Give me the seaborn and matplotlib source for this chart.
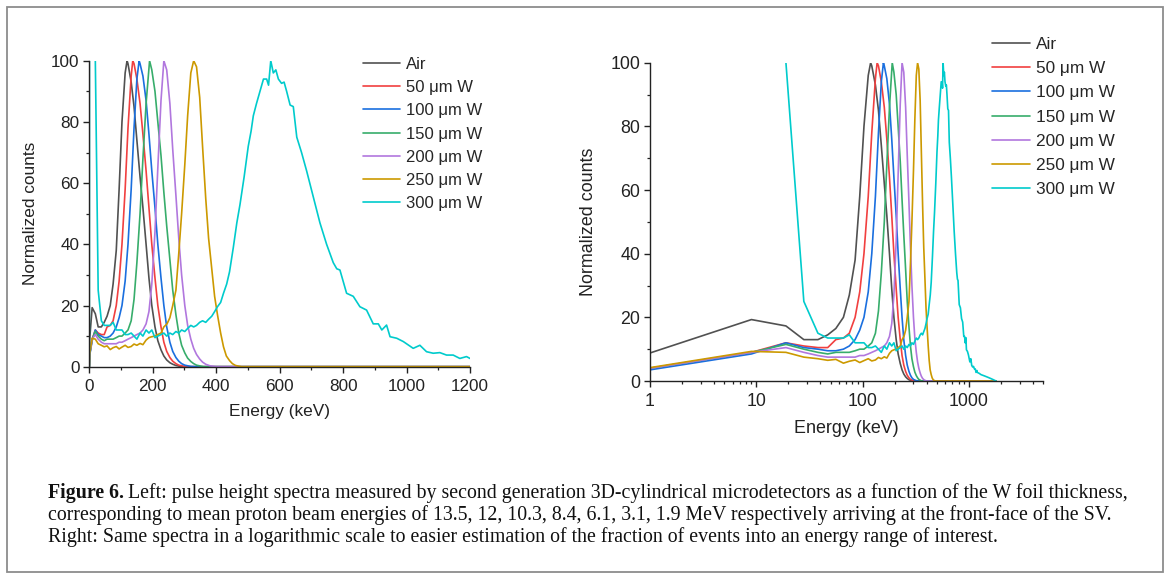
import numpy as np
import pandas as pd
import matplotlib
matplotlib.use("Agg")
import matplotlib.pyplot as plt
import seaborn as sns
from matplotlib.ticker import MultipleLocator, FixedLocator, LogLocator, NullFormatter
from matplotlib.patches import Rectangle

# ---------------- data ----------------
series_labels = ["Air", "50 \u03bcm W", "100 \u03bcm W", "150 \u03bcm W",
                 "200 \u03bcm W", "250 \u03bcm W", "300 \u03bcm W"]
series_colors = ["#515151", "#F14040", "#1A6FDF", "#37AD6B",
                 "#B177DE", "#CC9900", "#00CBCC"]

air_E = [0, 1, 9, 19, 28, 38, 47, 56, 66, 75, 85, 94, 103, 113, 119, 122, 132, 141,
         150, 160, 169, 179, 188, 197, 207, 216, 226, 235, 244, 254, 263, 273, 282,
         300, 600, 1800]
air_N = [0, 8.8, 19.3, 17.3, 13, 13, 14.5, 16.5, 20, 27, 38, 58, 80, 96, 100, 99, 93, 85,
         74, 62, 52, 40, 29, 20, 13, 8.5, 5.5, 3.5, 2.2, 1.3, 0.8, 0.4, 0.2,
         0, 0, 0]

w50_E = [0, 1, 9, 19, 28, 38, 47, 56, 66, 75, 85, 94, 103, 113, 122, 132, 137, 141,
         150, 160, 169, 179, 188, 197, 207, 216, 226, 235, 244, 254, 263, 273, 282,
         291, 301, 320, 600, 1800]
w50_N = [0, 4, 9, 12, 11, 10.5, 10.5, 13, 13.5, 15, 20, 28, 40, 58, 78, 95, 100, 99,
         94, 86, 76, 64, 52, 40, 29, 20, 13, 8, 5, 3, 1.8, 1, 0.5,
         0.3, 0.1, 0, 0, 0]

w100_E = [0, 1, 9, 19, 28, 38, 47, 56, 66, 75, 85, 94, 103, 113, 122, 132, 141, 150,
          157, 160, 169, 179, 188, 197, 207, 216, 226, 235, 244, 254, 263, 273, 282,
          291, 301, 310, 320, 340, 600, 1800]
w100_N = [0, 3.5, 8.5, 12, 10.5, 10, 9.5, 9.5, 10, 11, 13, 16, 20, 28, 40, 58, 78, 94,
          100, 99, 95, 87, 76, 64, 52, 40, 29, 20, 13, 8, 5, 3, 1.8,
          1, 0.5, 0.3, 0.1, 0, 0, 0]

w150_E = [0, 1, 9, 19, 28, 38, 47, 56, 66, 75, 85, 94, 103, 113, 122, 132, 141, 150,
          160, 169, 179, 190, 197, 207, 216, 226, 235, 244, 254, 263, 273, 282, 291,
          301, 310, 320, 329, 338, 360, 600, 1800]
w150_N = [0, 4, 9, 11.5, 10, 9, 8.5, 9, 9, 9, 9.5, 10, 10, 11, 12, 15, 22, 34,
          50, 68, 86, 100, 97, 90, 80, 69, 57, 46, 35, 25, 17, 11, 7,
          4.5, 2.8, 1.7, 1, 0.5, 0, 0, 0]

w200_E = [0, 1, 9, 19, 28, 38, 47, 56, 66, 75, 85, 94, 103, 113, 122, 132, 141, 150,
          160, 169, 179, 188, 197, 207, 216, 226, 235, 244, 254, 263, 273, 282, 291,
          301, 310, 320, 329, 338, 348, 357, 367, 380, 400, 600, 1800]
w200_N = [0, 4, 9, 10.5, 9, 8, 7.5, 7.5, 7.5, 7.5, 7.5, 8, 8, 8.5, 9, 9.5, 10, 10.5,
          11, 12, 14, 18, 27, 44, 65, 87, 100, 97, 86, 71, 56, 42, 30,
          20, 13.5, 9, 6, 4, 2.5, 1.5, 0.8, 0.3, 0, 0, 0]

w250_E = [0, 1, 9, 19, 28, 38, 47, 56, 66, 75, 85, 94, 103, 113, 122, 132, 141, 150,
          160, 169, 179, 188, 197, 207, 216, 226, 235, 245, 254, 263, 273, 282, 291,
          301, 310, 320, 329, 338, 348, 357, 367, 376, 386, 395, 404, 414, 423, 432,
          442, 451, 461, 480, 600, 1800]
w250_N = [0, 4.2, 9.3, 9, 7.5, 7, 6.5, 6.8, 5.6, 6.2, 6.6, 5.8, 6.4, 7, 6.3, 6.6, 7.4, 7,
          7.6, 7.2, 8.7, 9.5, 9.8, 10, 10.5, 11, 13, 14, 16, 20, 25, 37, 50,
          66, 82, 96, 100, 98, 88, 72, 55, 42, 32, 23, 17, 11, 6.5, 3.5,
          2, 1, 0.4, 0, 0, 0]

w300_E = [0, 1, 9, 19, 28, 38, 47, 56, 66, 75,
          85, 94, 103, 113, 122, 132, 141, 150, 160, 169,
          179, 188, 197, 207, 216, 226, 235, 244, 254, 263,
          273, 282, 291, 301, 310, 320, 329, 338, 348, 357,
          367, 376, 386, 395, 404, 414, 423, 433, 442, 454,
          465, 475, 488, 501, 510, 517, 527, 538, 549, 559,
          565, 572, 580, 588, 596, 606, 614, 622, 633, 643,
          654, 669, 685, 706, 727, 748, 769, 780, 790, 811,
          832, 853, 874, 895, 911, 922, 937, 948, 969, 990,
          1021, 1042, 1063, 1084, 1105, 1126, 1147, 1168, 1189, 1200,
          1250, 1300, 1400, 1500, 1600, 1700, 1800]
w300_N = [0, 250, 180, 100, 25, 15, 13.5, 13.5, 13.5, 14.5,
          12, 12, 12, 10.5, 10.5, 11, 10, 9, 11, 10,
          12, 11, 12, 9.5, 10, 10.5, 11, 10, 11, 10.5,
          11.5, 11, 12, 11.5, 12.5, 13.5, 13, 13.5, 14.5, 15,
          14.5, 15.5, 16.5, 18, 19.6, 21, 24, 27, 31, 39,
          47, 53, 62, 72, 77, 82, 86, 90, 94, 94,
          92, 100, 96, 97, 94, 92.6, 93, 90, 85.5, 85,
          75, 70, 64, 55.5, 47, 40, 34, 32, 31.6, 24,
          23, 19.6, 18.5, 14, 14, 12, 13.6, 9.8, 9.3, 8.2,
          6, 7, 4.9, 4.4, 4.6, 3.8, 3.8, 2.7, 3.3, 2.7,
          2.4, 2, 1.6, 1.2, 0.8, 0.4, 0]

x_ticks_lin = [0, 200, 400, 600, 800, 1000, 1200]
x_ticks_log = [1, 10, 100, 1000]
y_ticks = [0, 20, 40, 60, 80, 100]

caption_bold = "Figure 6."
caption_line1 = ("Left: pulse height spectra measured by second generation 3D-cylindrical "
                 "microdetectors as a function of the W foil thickness,")
caption_line2 = ("corresponding to mean proton beam energies of 13.5, 12, 10.3, 8.4, 6.1, 3.1, "
                 "1.9 MeV respectively arriving at the front-face of the SV.")
caption_line3 = ("Right: Same spectra in a logarithmic scale to easier estimation of the "
                 "fraction of events into an energy range of interest.")

# ---------------- build long-form table ----------------
all_E = [air_E, w50_E, w100_E, w150_E, w200_E, w250_E, w300_E]
all_N = [air_N, w50_N, w100_N, w150_N, w200_N, w250_N, w300_N]
frames = []
for lab, e, n in zip(series_labels, all_E, all_N):
    assert len(e) == len(n), (lab, len(e), len(n))
    frames.append(pd.DataFrame({"E": e, "N": n, "series": lab}))
df = pd.concat(frames, ignore_index=True)

# ---------------- style ----------------
sns.set_style("ticks")
plt.rcParams["font.family"] = ["Liberation Sans", "DejaVu Sans"]
plt.rcParams["axes.linewidth"] = 1.0
plt.rcParams["axes.edgecolor"] = "#222222"
plt.rcParams["xtick.color"] = "#222222"
plt.rcParams["ytick.color"] = "#222222"

W, H = 1170, 577
fig = plt.figure(figsize=(W / 100, H / 100), dpi=100)
fig.patch.set_facecolor("white")


def px_axes(x0, y0, x1, y1):
    return fig.add_axes([x0 / W, 1 - y1 / H, (x1 - x0) / W, (y1 - y0) / H])


axL = px_axes(89.3, 60.7, 470.0, 366.7)
axR = px_axes(650.0, 62.7, 1043.2, 381.0)

for ax, data, fs in [(axL, df, 1.0), (axR, df[df["E"] > 0], 1.04)]:
    sns.lineplot(data=data, x="E", y="N", hue="series", hue_order=series_labels,
                 palette=series_colors, estimator=None, sort=False, linewidth=1.2, ax=ax)
    ax.set_ylim(0, 100)
    ax.yaxis.set_major_locator(FixedLocator(y_ticks))
    ax.yaxis.set_minor_locator(MultipleLocator(10))
    ax.tick_params(which="major", direction="out", length=4, width=1.0,
                   labelsize=12.3 * fs, pad=3, colors="#222222")
    ax.tick_params(which="minor", direction="out", length=2.2, width=0.9)
    ax.tick_params(axis="x", which="major", pad=5)
    sns.despine(ax=ax)
    ax.set_xlabel("Energy (keV)", fontsize=12.4 * fs, color="#222222")
    ax.set_ylabel("Normalized counts", fontsize=12.4 * fs, color="#222222")

# left axis: linear
axL.set_xlim(0, 1200)
axL.xaxis.set_major_locator(FixedLocator(x_ticks_lin))
axL.xaxis.set_minor_locator(MultipleLocator(100))
axL.set_xticklabels([str(v) for v in x_ticks_lin])
axL.yaxis.set_label_coords(-0.135, 0.5)
axL.xaxis.set_label_coords(0.5, -0.122)

# right axis: log
axR.set_xscale("log")
axR.set_xlim(1, 5000)
axR.xaxis.set_major_locator(FixedLocator(x_ticks_log))
axR.set_xticklabels([str(v) for v in x_ticks_log])
axR.xaxis.set_minor_locator(LogLocator(base=10, subs=np.arange(2, 10)))
axR.xaxis.set_minor_formatter(NullFormatter())
axR.yaxis.set_label_coords(-0.135, 0.5)
axR.xaxis.set_label_coords(0.5, -0.122)

# legends
for ax, anchor, fs, sp in [(axL, (363, 57), 12.0, 0.49), (axR, (992, 37), 12.4, 0.53)]:
    handles, labs = ax.get_legend_handles_labels()
    if ax.get_legend() is not None:
        ax.get_legend().remove()
    for h in handles:
        h.set_linewidth(1.2)
    fig.legend(handles, labs, loc="upper left",
               bbox_to_anchor=(anchor[0] / W, 1 - anchor[1] / H),
               frameon=False, fontsize=fs, handlelength=2.2, handletextpad=0.35,
               labelspacing=sp, borderpad=0, borderaxespad=0)

# caption
cap_font = ["Liberation Serif", "DejaVu Serif"]
cap_fs = 14.3
t0 = fig.text(48 / W, 1 - 498 / H, caption_bold, family=cap_font, weight="bold",
              fontsize=cap_fs, va="baseline", ha="left", color="#111111")
fig.canvas.draw()
bb = t0.get_window_extent()
fig.text((bb.x1 + 4) / W, 1 - 498 / H, caption_line1, family=cap_font,
         fontsize=cap_fs, va="baseline", ha="left", color="#111111")
fig.text(48 / W, 1 - 520 / H, caption_line2, family=cap_font,
         fontsize=cap_fs, va="baseline", ha="left", color="#111111")
fig.text(48 / W, 1 - 542 / H, caption_line3, family=cap_font,
         fontsize=cap_fs, va="baseline", ha="left", color="#111111")

# figure frame
fig.add_artist(Rectangle((7 / W, 1 - 572 / H), (1163 - 7) / W, (572 - 7) / H,
                         transform=fig.transFigure, fill=False,
                         edgecolor="#8c8c8c", linewidth=1.3))

fig.savefig("out.png", dpi=100)
